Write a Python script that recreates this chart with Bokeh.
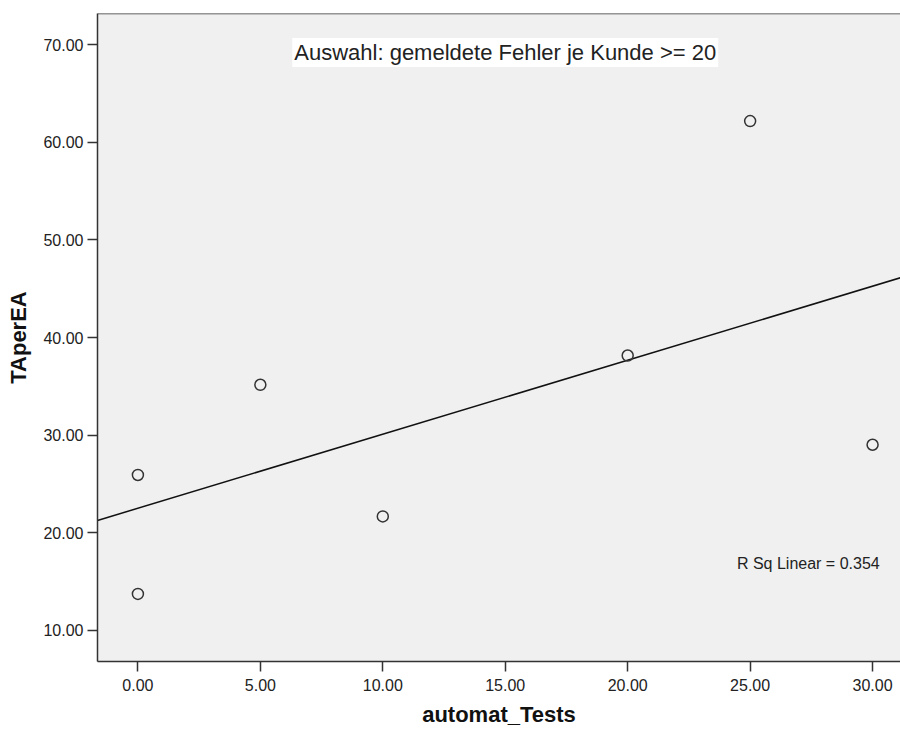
import numpy as np
from bokeh.plotting import figure
from bokeh.models import Range1d, FixedTicker, NumeralTickFormatter, Label, Span
from bokeh.embed import file_html
from bokeh.resources import INLINE

# ---- data ----
automat_tests = [0, 0, 5, 10, 20, 25, 30]
ta_per_ea = [13.7, 25.9, 35.15, 21.65, 38.15, 62.2, 29.0]
x_ticks = [0, 5, 10, 15, 20, 25, 30]
y_ticks = [10, 20, 30, 40, 50, 60, 70]
title_text = "Auswahl: gemeldete Fehler je Kunde >= 20"
rsq_text = "R Sq Linear = 0.354"
x_label = "automat_Tests"
y_label = "TAperEA"

X_MIN, X_MAX = -1.65, 31.14
Y_MIN, Y_MAX = 6.77, 73.23

slope, intercept = np.polyfit(automat_tests, ta_per_ea, 1)

FONT = "Liberation Sans"
DARK = "#222222"

p = figure(width=900, height=729, output_backend="svg", toolbar_location=None,
           x_range=Range1d(X_MIN, X_MAX), y_range=Range1d(Y_MIN, Y_MAX),
           min_border_left=97, min_border_right=0, min_border_top=13, min_border_bottom=68,
           background_fill_color="#F0F0F0", border_fill_color="white",
           outline_line_color=None)
p.grid.visible = False

for ax in (p.xaxis[0], p.yaxis[0]):
    ax.axis_line_color = "#333333"
    ax.axis_line_width = 1.5
    ax.major_tick_line_color = "#333333"
    ax.major_tick_line_width = 1.5
    ax.major_tick_out = 10
    ax.major_tick_in = 0
    ax.minor_tick_line_color = None
    ax.formatter = NumeralTickFormatter(format="0.00")
    ax.major_label_text_font = FONT
    ax.major_label_text_font_size = "16px"
    ax.major_label_text_color = DARK
    ax.axis_label_text_font = FONT
    ax.axis_label_text_font_style = "bold"
    ax.axis_label_text_font_size = "22px"
    ax.axis_label_text_color = "#111111"

p.xaxis[0].ticker = FixedTicker(ticks=x_ticks)
p.yaxis[0].ticker = FixedTicker(ticks=y_ticks)
p.xaxis[0].axis_label = x_label
p.yaxis[0].axis_label = y_label
p.xaxis[0].major_label_standoff = 7
p.xaxis[0].axis_label_standoff = 8
p.yaxis[0].major_label_standoff = 4
p.yaxis[0].axis_label_standoff = 9

# top border of plot area
p.add_layout(Span(location=Y_MAX, dimension="width", line_color="#333333", line_width=1.5))

# regression line
p.line(x=[X_MIN, X_MAX], y=[intercept + slope * X_MIN, intercept + slope * X_MAX],
       line_color="#111111", line_width=1.5)

# points
p.scatter(x=automat_tests, y=ta_per_ea, size=11, marker="circle",
          fill_color=None, line_color="#333333", line_width=1.5)

# annotations
p.add_layout(Label(x=15, y=69.23, text=title_text, text_align="center", text_baseline="middle",
                   text_font=FONT, text_font_size="22px", text_color=DARK,
                   background_fill_color="white", padding=2))
p.add_layout(Label(x=30.29, y=16.82, text=rsq_text, text_align="right", text_baseline="middle",
                   text_font=FONT, text_font_size="16px", text_color=DARK))

open("out.html", "w").write(file_html(p, INLINE))
